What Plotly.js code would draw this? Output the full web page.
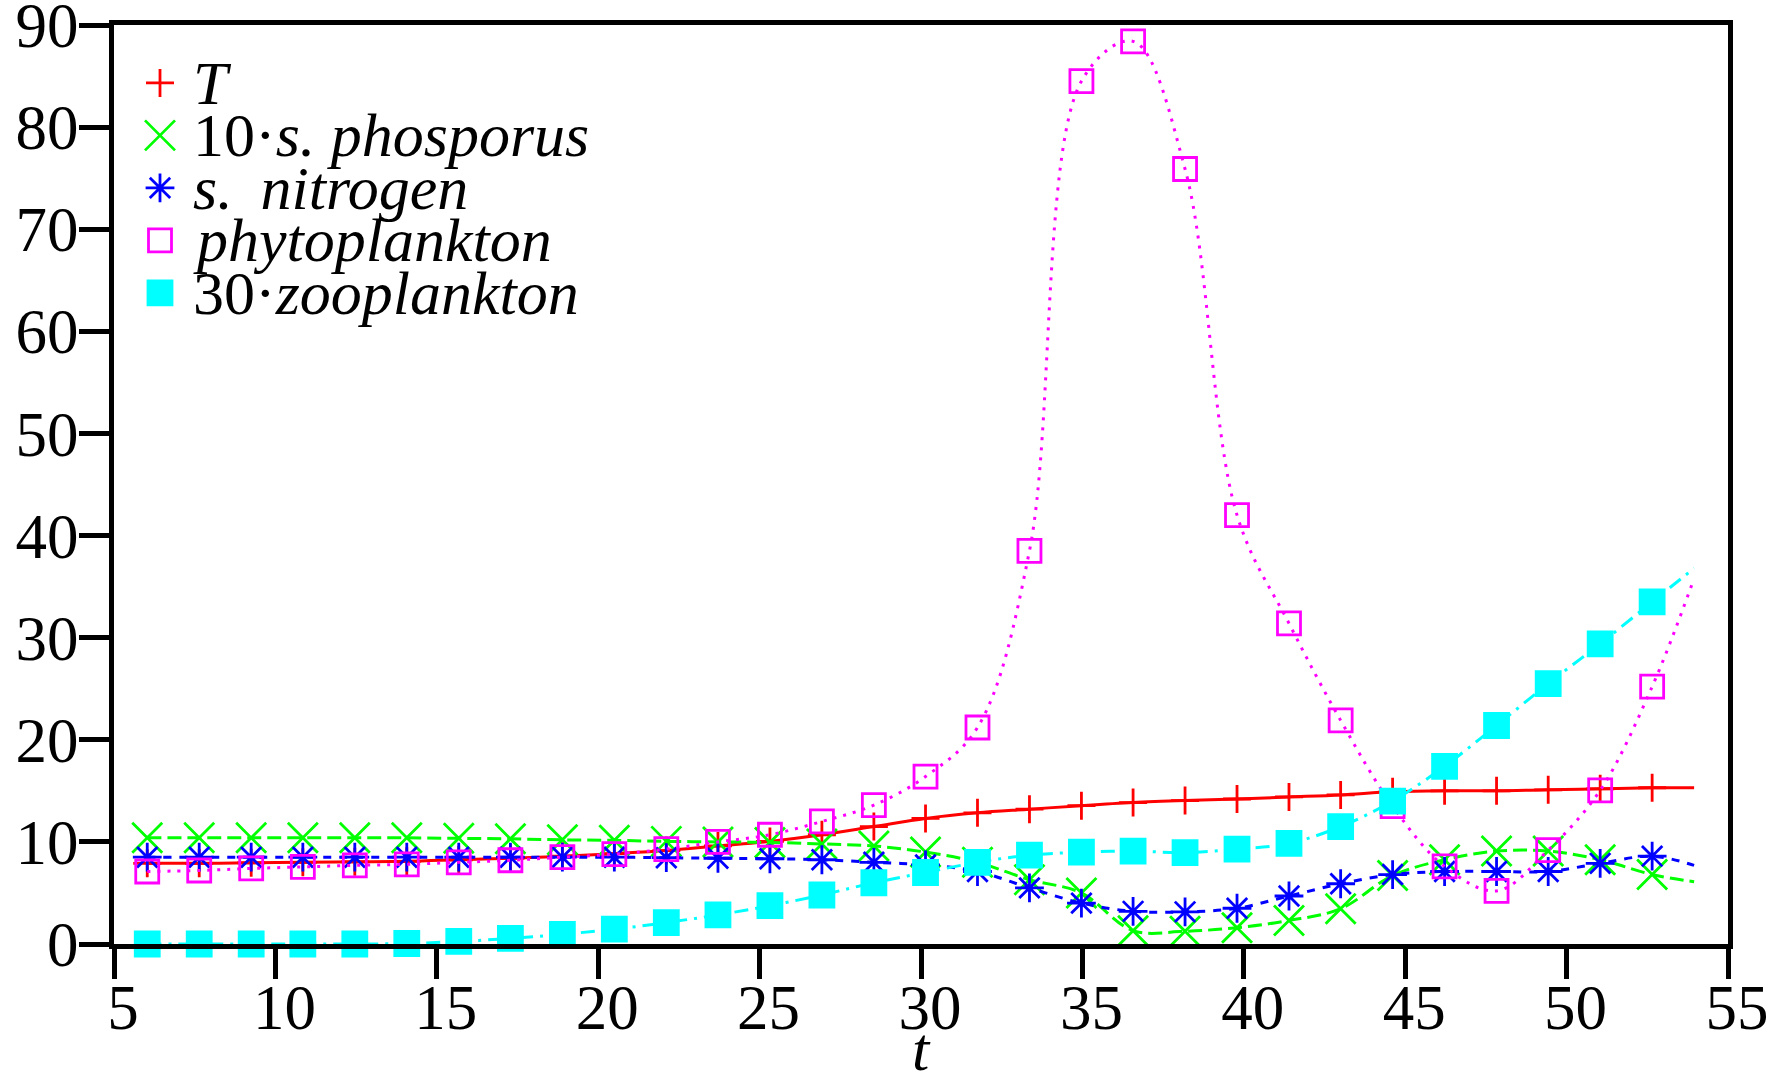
<!DOCTYPE html>
<html><head><meta charset="utf-8">
<script src="https://cdn.plot.ly/plotly-3.0.1.min.js"></script>
<style>html,body{margin:0;padding:0;background:#fff}</style>
</head><body><div id="chart" style="width:1783px;height:1072px"></div>
<script>
// time of marked samples, and end of the curves
const t = [6.03,7.64,9.25,10.85,12.46,14.07,15.68,17.28,18.89,20.50,22.11,23.71,25.32,26.93,28.54,30.14,31.75,33.36,34.97,36.57,38.18,39.79,41.40,43.00,44.61,46.22,47.83,49.43,51.04,52.65];
const tEnd = 53.95;
// values at the marked samples (last entry = value at tEnd)
const T = [7.9,7.9,7.95,8.0,8.05,8.1,8.25,8.4,8.6,8.85,9.15,9.6,10.05,10.7,11.5,12.3,12.85,13.2,13.55,13.85,14.05,14.2,14.4,14.6,14.9,15.0,15.0,15.1,15.2,15.3,15.3];
const phosphorus10 = [10.4,10.4,10.4,10.4,10.4,10.4,10.35,10.3,10.2,10.15,10.05,10.0,9.95,9.8,9.6,9.0,8.0,6.3,5.0,1.3,1.25,1.6,2.3,3.45,6.7,8.25,9.1,9.1,8.25,6.8,6.1];
const nitrogen = [8.5,8.5,8.5,8.5,8.5,8.5,8.5,8.5,8.5,8.5,8.45,8.4,8.35,8.25,8.0,7.75,7.1,5.5,4.0,3.2,3.15,3.5,4.7,5.9,6.8,7.1,7.1,7.1,7.9,8.6,7.7];
const phyto = [7.1,7.2,7.4,7.55,7.7,7.8,8.0,8.2,8.5,8.8,9.3,10.0,10.7,12.0,13.6,16.4,21.2,38.5,84.5,88.4,75.9,42.0,31.4,21.9,13.5,7.6,5.2,9.2,15.05,25.2,35.8];
const zoo30 = [0,0,0,0,0,0.05,0.25,0.55,0.95,1.45,2.1,2.85,3.75,4.8,6.0,7.0,8.0,8.7,9.0,9.1,8.95,9.3,9.85,11.5,14.0,17.4,21.4,25.5,29.4,33.5,36.8];
const labels = ['<i>T</i>', '10·<i>s. phosporus</i>', '<i>s.\u00a0\u2009nitrogen</i>', '<i>phytoplankton</i>', '30·<i>zooplankton</i>'];
const xTitle = '<i>t</i>';

const FONT = 'Liberation Serif, Times New Roman, serif';
const series = [
  {y: T, color: '#ff0000', dash: 'solid', symbol: 'cross-thin', size: 20},
  {y: phosphorus10, color: '#00ff00', dash: '14px,6px', symbol: 'x-thin', size: 30},
  {y: nitrogen, color: '#0000ff', dash: '8px,8px', symbol: 'asterisk', size: 24},
  {y: phyto, color: '#ff00ff', dash: '3px,7px', symbol: 'square-open', size: 23},
  {y: zoo30, color: '#00ffff', dash: '14px,7px,3px,7px', symbol: 'square', size: 24}
];
const tLine = t.concat([tEnd]);
const traces = [];
series.forEach(s => {
  traces.push({x: tLine, y: s.y, mode: 'lines', type: 'scatter', showlegend: false, hoverinfo: 'skip',
    line: {color: s.color, width: 3, dash: s.dash, shape: 'spline', smoothing: 1}});
  traces.push({x: t, y: s.y.slice(0, t.length), mode: 'markers', type: 'scatter', showlegend: false, cliponaxis: false,
    marker: {symbol: s.symbol, size: s.size, color: s.color, line: {color: s.color, width: 2.8}}});
});
// hand-made legend (samples on an overlay axis in [0,1])
const legX = 0.0285, legTextX = 0.048, legY0 = 0.937, legDY = 0.0571;
series.forEach((s, i) => {
  traces.push({x: [legX], y: [legY0 - i * legDY], xaxis: 'x2', yaxis: 'y2', mode: 'markers', type: 'scatter', showlegend: false, hoverinfo: 'skip',
    marker: {symbol: s.symbol, size: s.size, color: s.color, line: {color: s.color, width: 2.8}}});
});
const annotations = labels.map((txt, i) => ({
  text: txt, xref: 'paper', yref: 'paper', x: legTextX, y: legY0 - i * legDY, xanchor: 'left', yanchor: 'middle',
  showarrow: false, font: {family: FONT, size: 62, color: '#000'}
}));
// x-axis title "t" placed under the axis
annotations.push({text: xTitle, xref: 'paper', yref: 'paper', x: 0.5, y: -0.114, xanchor: 'center', yanchor: 'middle',
  showarrow: false, font: {family: FONT, size: 62, color: '#000'}});

const axisCommon = {
  showgrid: false, zeroline: false, showline: true, linecolor: '#000', linewidth: 5, mirror: true,
  ticks: 'outside', ticklen: 30, tickwidth: 5, tickcolor: '#000', ticklabeloverflow: 'allow',
  tickfont: {family: FONT, size: 63, color: '#000'}
};
const layout = {
  width: 1783, height: 1072,
  margin: {l: 114, r: 55, t: 25, b: 128},
  paper_bgcolor: '#fff', plot_bgcolor: '#fff',
  showlegend: false,
  xaxis: Object.assign({}, axisCommon, {range: [5, 55], dtick: 5, tick0: 5, ticklabelshift: 9, ticklabelstandoff: -26}),
  yaxis: Object.assign({}, axisCommon, {range: [0, 90], dtick: 10, tick0: 0, ticklabelstandoff: -12}),
  xaxis2: {overlaying: 'x', range: [0, 1], visible: false, fixedrange: true},
  yaxis2: {overlaying: 'y', range: [0, 1], visible: false, fixedrange: true},
  annotations: annotations
};
Plotly.newPlot('chart', traces, layout, {staticPlot: true, displayModeBar: false});
</script>
</body></html>
